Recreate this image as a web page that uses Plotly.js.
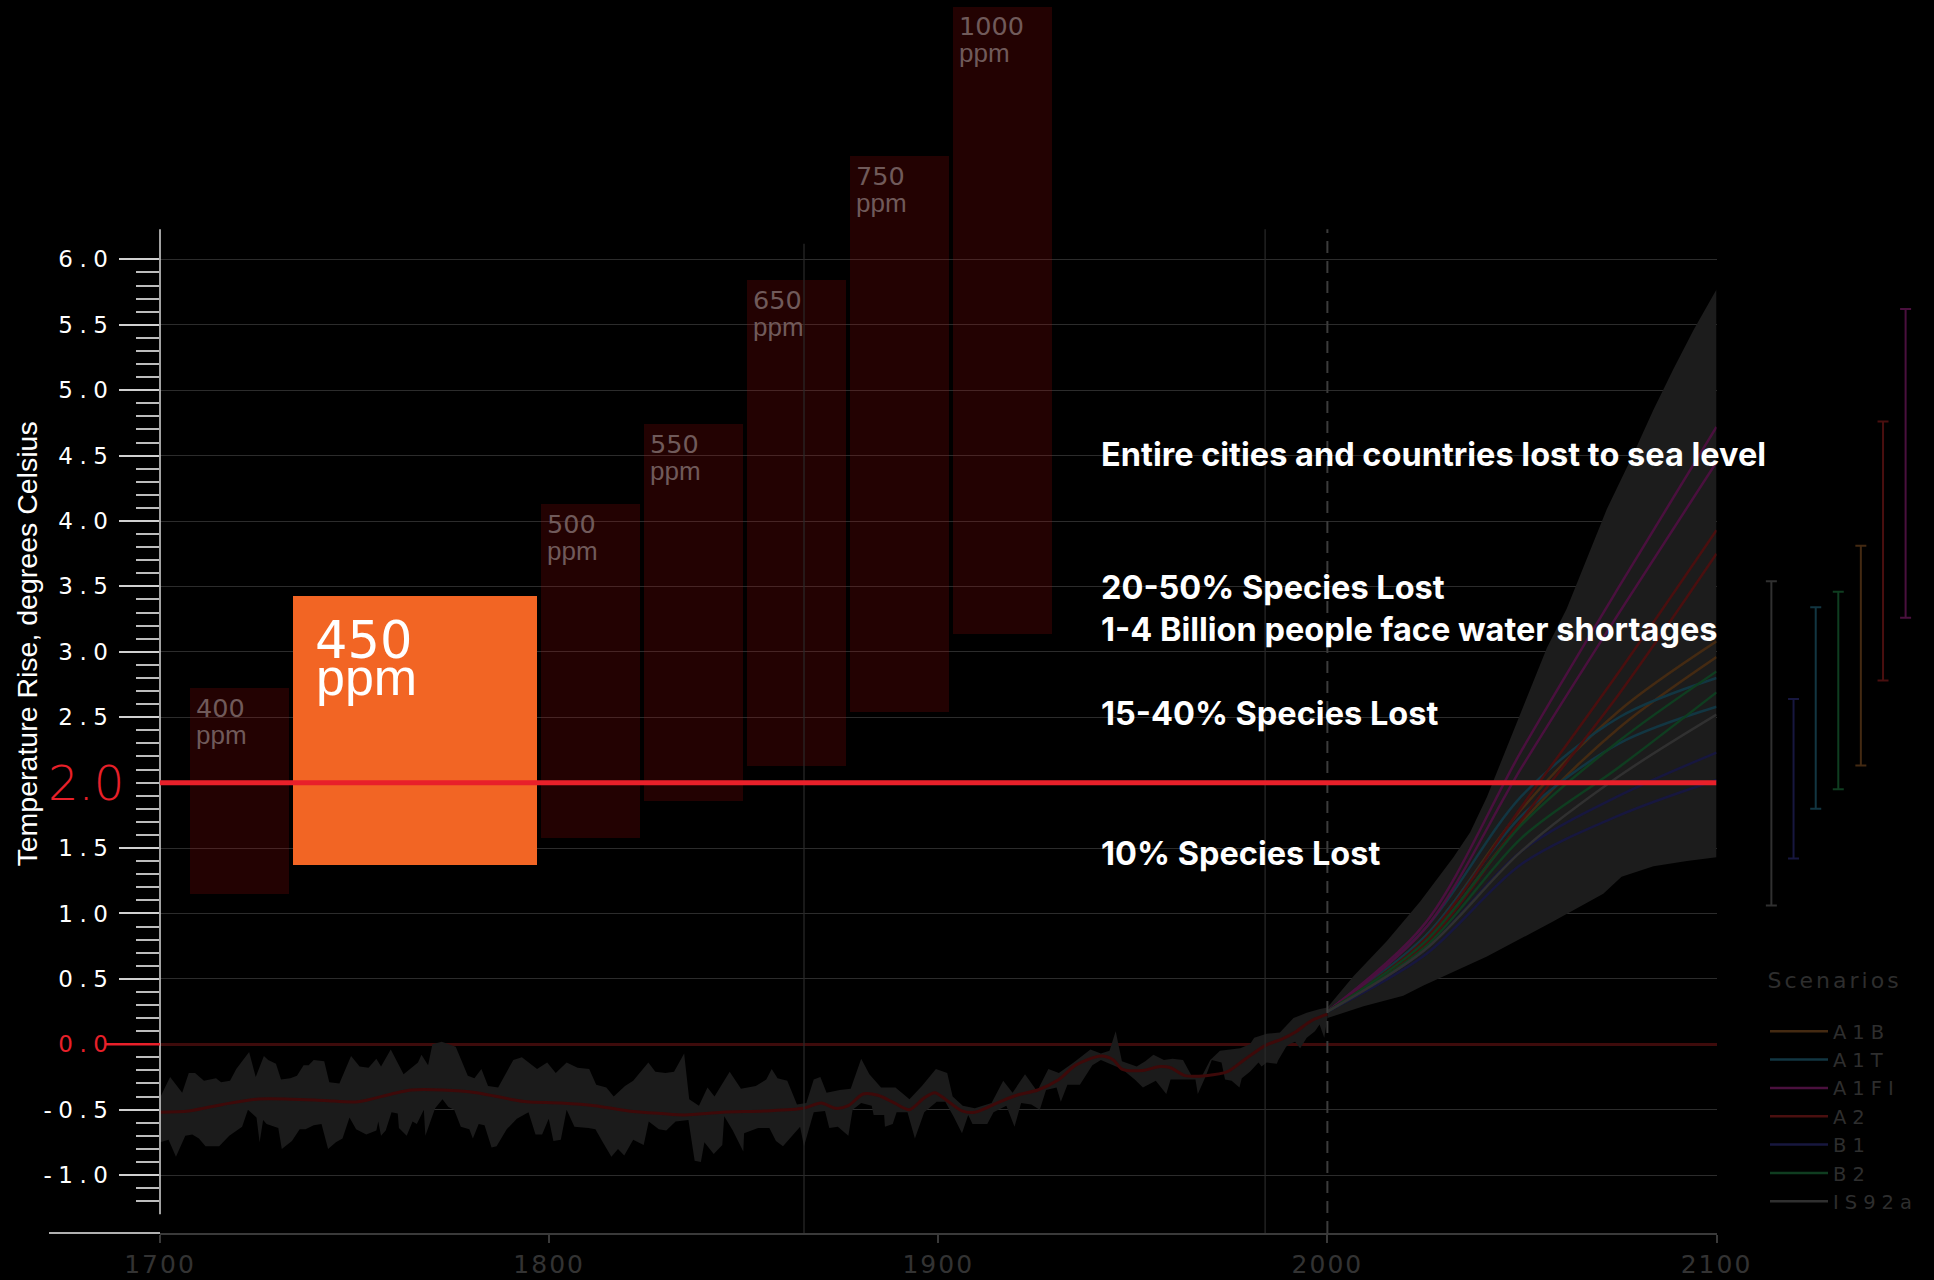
<!DOCTYPE html>
<html>
<head>
<meta charset="utf-8">
<script src="https://cdn.plot.ly/plotly-3.0.1.min.js"></script>
<style>
html,body{margin:0;padding:0;background:#000;}
#chart{width:1934px;height:1280px;}
.ytick text{letter-spacing:6.5px;}
.xtick text{letter-spacing:2px;}
.legendtext{letter-spacing:6px;}
.annotation[data-index="0"] .annotation-text{letter-spacing:3px;}
</style>
</head>
<body>
<div id="chart"></div>
<script>
// ---------- CO2 stabilisation boxes ----------
const boxLabels = ['400','450','500','550','650','750','1000'];
const boxStart  = [1707.7,1734.2,1797.9,1824.3,1850.9,1877.3,1903.8];
const boxEnd    = [1733.2,1796.9,1823.3,1849.8,1876.3,1902.8,1929.2];
const boxLow    = [1.15,1.37,1.58,1.86,2.13,2.54,3.14];
const boxHigh   = [2.72,3.43,4.13,4.74,5.84,6.79,7.93];
const highlightBox = '450';

// ---------- historical record ----------
const histUpperYears = [1700.0,1702.6,1705.7,1707.4,1709.0,1711.3,1714.4,1715.7,1718.0,1719.6,1722.9,1724.6,1726.7,1727.8,1729.8,1731.1,1733.5,1735.2,1736.9,1738.2,1739.5,1742.2,1743.5,1746.1,1749.1,1751.3,1753.6,1755.6,1756.8,1759.3,1762.6,1766.3,1767.2,1768.9,1770.0,1772.4,1776.0,1777.8,1779.1,1780.8,1782.6,1784.3,1786.9,1790.8,1793.0,1796.9,1799.5,1801.7,1804.5,1807.3,1810.3,1812.1,1814.7,1816.6,1819.5,1821.6,1825.5,1827.3,1829.9,1832.1,1834.7,1836.0,1838.5,1840.7,1842.5,1846.4,1849.3,1853.1,1855.8,1857.2,1858.7,1861.2,1863.7,1866.1,1868.0,1869.7,1871.3,1874.7,1877.5,1880.2,1882.3,1885.3,1889.0,1892.6,1895.8,1899.4,1902.3,1903.7,1906.3,1909.4,1913.7,1916.7,1919.1,1922.3,1925.4,1928.3,1931.0,1934.8,1939.1,1941.8,1944.0,1945.6,1947.2,1951.0,1953.2,1955.3,1958.0,1960.2,1962.9,1965.1,1967.8,1969.9,1972.4,1977.6,1980.1,1981.2,1984.4,1987.8,1989.6,1991.3,1994.7,1998.1,2000.0];
const histUpper = [-0.41,-0.25,-0.37,-0.22,-0.22,-0.28,-0.26,-0.29,-0.28,-0.19,-0.06,-0.25,-0.09,-0.12,-0.15,-0.27,-0.26,-0.24,-0.16,-0.16,-0.12,-0.13,-0.29,-0.30,-0.09,-0.17,-0.18,-0.11,-0.17,-0.04,-0.23,-0.14,-0.08,-0.16,0.00,0.02,-0.02,-0.14,-0.24,-0.26,-0.19,-0.32,-0.33,-0.12,-0.10,-0.19,-0.14,-0.22,-0.14,-0.18,-0.19,-0.31,-0.33,-0.40,-0.32,-0.28,-0.14,-0.21,-0.22,-0.21,-0.07,-0.42,-0.47,-0.33,-0.40,-0.21,-0.34,-0.32,-0.27,-0.19,-0.26,-0.28,-0.46,-0.45,-0.27,-0.25,-0.37,-0.35,-0.34,-0.11,-0.23,-0.33,-0.33,-0.42,-0.32,-0.19,-0.22,-0.40,-0.47,-0.49,-0.45,-0.28,-0.37,-0.23,-0.36,-0.19,-0.22,-0.14,-0.04,-0.07,-0.05,0.10,-0.13,-0.17,-0.13,-0.08,-0.12,-0.11,-0.12,-0.24,-0.24,-0.12,-0.05,-0.03,0.00,0.05,0.08,0.09,0.15,0.20,0.24,0.27,0.28];
const histLowerYears = [1700.0,1702.2,1704.1,1706.5,1708.3,1710.0,1711.7,1715.2,1717.8,1719.6,1721.1,1722.6,1724.8,1725.6,1726.5,1727.4,1730.4,1731.3,1733.9,1735.9,1737.4,1739.5,1741.5,1743.2,1745.2,1746.9,1748.7,1750.4,1753.0,1755.6,1756.1,1756.8,1758.0,1759.5,1761.1,1761.4,1763.4,1764.9,1766.0,1767.8,1768.2,1770.7,1772.6,1774.1,1775.6,1777.3,1779.5,1780.4,1781.9,1783.4,1785.2,1786.5,1789.1,1791.7,1794.7,1796.5,1798.2,1799.9,1801.1,1803.0,1804.5,1806.5,1810.1,1811.9,1813.8,1816.0,1817.7,1819.3,1821.6,1824.3,1825.6,1828.2,1830.1,1832.5,1835.8,1837.4,1839.0,1839.9,1842.3,1844.5,1845.0,1847.2,1849.9,1850.1,1853.7,1856.6,1858.3,1860.1,1864.5,1865.5,1868.0,1870.9,1872.0,1874.2,1876.9,1878.0,1880.2,1882.9,1883.4,1886.1,1886.3,1888.3,1889.3,1892.1,1894.0,1896.4,1899.6,1901.8,1903.9,1906.1,1907.7,1908.8,1912.6,1914.2,1917.5,1919.6,1921.3,1923.9,1926.1,1927.7,1930.4,1931.5,1933.2,1936.4,1939.6,1941.8,1947.2,1950.5,1952.6,1955.9,1958.6,1959.7,1963.4,1966.1,1966.7,1968.8,1970.3,1972.8,1973.7,1975.4,1977.4,1978.0,1980.1,1981.0,1982.3,1983.1,1984.4,1987.0,1987.4,1989.4,1990.2,1991.7,1993.0,1994.7,1996.8,1998.0,1999.2,2000.0];
const histLower = [-0.75,-0.73,-0.86,-0.70,-0.69,-0.72,-0.78,-0.78,-0.70,-0.66,-0.63,-0.50,-0.56,-0.75,-0.58,-0.61,-0.64,-0.80,-0.74,-0.65,-0.65,-0.62,-0.61,-0.80,-0.75,-0.72,-0.56,-0.65,-0.69,-0.66,-0.59,-0.70,-0.66,-0.52,-0.53,-0.64,-0.70,-0.59,-0.61,-0.50,-0.70,-0.49,-0.42,-0.48,-0.50,-0.63,-0.65,-0.72,-0.61,-0.62,-0.79,-0.78,-0.65,-0.57,-0.52,-0.69,-0.69,-0.57,-0.74,-0.73,-0.50,-0.63,-0.64,-0.65,-0.75,-0.86,-0.80,-0.85,-0.73,-0.77,-0.59,-0.65,-0.66,-0.59,-0.58,-0.89,-0.90,-0.75,-0.84,-0.77,-0.55,-0.66,-0.82,-0.68,-0.64,-0.64,-0.74,-0.78,-0.63,-0.78,-0.52,-0.51,-0.64,-0.63,-0.70,-0.50,-0.45,-0.47,-0.54,-0.54,-0.63,-0.61,-0.52,-0.52,-0.72,-0.52,-0.44,-0.44,-0.55,-0.68,-0.54,-0.61,-0.61,-0.52,-0.47,-0.63,-0.45,-0.46,-0.50,-0.35,-0.33,-0.44,-0.31,-0.31,-0.16,-0.12,-0.19,-0.27,-0.33,-0.28,-0.38,-0.27,-0.27,-0.27,-0.38,-0.24,-0.12,-0.14,-0.27,-0.28,-0.33,-0.26,-0.21,-0.18,-0.14,-0.17,-0.14,-0.15,-0.12,-0.02,0.00,0.02,-0.03,0.05,0.10,0.15,0.05,0.20];
const meanYears = [1700.0,1707.4,1716.1,1724.8,1733.5,1742.2,1750.8,1759.5,1764.7,1772.6,1781.3,1790.0,1794.3,1803.0,1811.7,1820.4,1829.0,1834.9,1844.5,1855.3,1865.3,1869.9,1873.7,1876.9,1880.7,1884.5,1888.8,1892.6,1896.4,1899.1,1901.8,1906.1,1909.4,1915.8,1920.2,1925.6,1931.0,1935.3,1941.8,1945.0,1947.2,1952.6,1957.0,1959.7,1963.4,1968.8,1974.3,1978.6,1984.0,1988.3,1991.6,1995.9,2000.0];
const meanTemp  = [-0.52,-0.51,-0.46,-0.42,-0.42,-0.43,-0.44,-0.38,-0.35,-0.35,-0.37,-0.42,-0.44,-0.45,-0.47,-0.51,-0.53,-0.54,-0.52,-0.51,-0.49,-0.45,-0.49,-0.47,-0.38,-0.39,-0.45,-0.50,-0.41,-0.37,-0.42,-0.51,-0.52,-0.44,-0.39,-0.35,-0.27,-0.16,-0.09,-0.12,-0.19,-0.20,-0.17,-0.18,-0.24,-0.24,-0.21,-0.12,-0.01,0.04,0.09,0.18,0.23];

// ---------- projections ----------
const projUpperYears = [2000.0,2006.7,2015.3,2023.8,2032.4,2036.7,2041.0,2046.1,2051.2,2056.4,2061.5,2066.7,2071.8,2078.6,2083.8,2088.9,2094.1,2100.0];
const projUpper      = [0.28,0.52,0.79,1.09,1.43,1.62,1.89,2.27,2.65,3.03,3.33,3.71,4.09,4.51,4.85,5.16,5.46,5.77];
const projLowerYears = [2000.0,2009.3,2019.5,2024.7,2041.0,2058.1,2070.9,2075.6,2083.8,2092.4,2100.0];
const projLower      = [0.20,0.29,0.37,0.45,0.67,0.94,1.15,1.28,1.36,1.40,1.43];

const scenarioYears = [2000,2025,2050,2075,2100];
const scenarioNames = ['A1B','A1T','A1FI','A2','B1','B2','IS92a'];
const scenarioRuns = {
  'A1B':  [[0.25,0.82,1.80,2.55,3.08],[0.25,0.78,1.70,2.42,2.96]],
  'A1T':  [[0.25,0.88,1.90,2.50,2.80],[0.25,0.82,1.75,2.30,2.58]],
  'A1FI': [[0.25,0.92,2.25,3.50,4.72],[0.25,0.88,2.12,3.30,4.45]],
  'A2':   [[0.25,0.80,1.82,2.85,3.93],[0.25,0.76,1.72,2.68,3.75]],
  'B1':   [[0.25,0.72,1.48,1.90,2.23],[0.25,0.68,1.38,1.75,2.02]],
  'B2':   [[0.25,0.78,1.68,2.32,2.85],[0.25,0.74,1.58,2.12,2.69]],
  'IS92a':[[0.25,0.72,1.48,2.05,2.52]]
};
const scenarioColors = {'A1B':'#442a12','A1T':'#123642','A1FI':'#4a103e','A2':'#4a0f0f','B1':'#17173f','B2':'#0f3d20','IS92a':'#303030'};

// 2100 ranges
const rangeNames = ['IS92a','B1','A1T','B2','A1B','A2','A1FI'];
const rangeX     = [2114.1,2119.8,2125.5,2131.3,2137.1,2142.8,2148.6];
const rangeLow   = [1.06,1.42,1.80,1.95,2.13,2.78,3.26];
const rangeHigh  = [3.54,2.64,3.34,3.46,3.81,4.76,5.62];

// ---------- impact text ----------
const impactText  = ['Entire cities and countries lost to sea level','20-50% Species Lost','1-4 Billion people face water shortages','15-40% Species Lost','10% Species Lost'];
const impactLevel = [4.51,3.49,3.17,2.53,1.46];
const impactYear  = 1941.4;

// ---------- axes ----------
const xTicks = [1700,1800,1900,2000,2100];
const yTicks = [-1,-0.5,0,0.5,1,1.5,2.5,3,3.5,4,4.5,5,5.5,6];
const targetLevel = 2.0;
const markerYears = [1865.5,1984];
const baseYear = 2000;

const RED = '#e8202a';
const Y0 = -1.443, Y1 = 7.983;

// minor ticks every 0.1
const minorVals = [];
for (let k = -12; k <= 59; k++) { if (k % 5 !== 0 || k === 20) minorVals.push(k/10); }

const traces = [];

// boxes as bars
traces.push({
  type:'bar', x: boxStart.map((s,i)=>(s+boxEnd[i])/2), width: boxStart.map((s,i)=>boxEnd[i]-s),
  base: boxLow, y: boxHigh.map((h,i)=>h-boxLow[i]),
  marker:{color: boxLabels.map(l=> l===highlightBox ? '#f26524' : 'rgba(175,8,8,0.2)'), line:{width:0}},
  hoverinfo:'skip', showlegend:false
});

// historical band
traces.push({
  type:'scatter', mode:'lines', x: histUpperYears.concat(histLowerYears.slice().reverse()),
  y: histUpper.concat(histLower.slice().reverse()), fill:'toself', fillcolor:'#1b1b1b',
  line:{width:0}, hoverinfo:'skip', showlegend:false
});
// projection band
traces.push({
  type:'scatter', mode:'lines', x: projUpperYears.concat(projLowerYears.slice().reverse()),
  y: projUpper.concat(projLower.slice().reverse()), fill:'toself', fillcolor:'#1c1c1c',
  line:{width:0}, hoverinfo:'skip', showlegend:false
});
// mean line
traces.push({
  type:'scatter', mode:'lines', x: meanYears, y: meanTemp,
  line:{color:'#3e0909', width:3, shape:'spline', smoothing:0.8}, hoverinfo:'skip', showlegend:false
});
// scenario runs
scenarioNames.forEach(n=>{
  scenarioRuns[n].forEach((run,j)=>{
    traces.push({
      type:'scatter', mode:'lines', name:n, x: scenarioYears, y: run,
      line:{color: scenarioColors[n], width:2.5, shape:'spline', smoothing:0.9},
      showlegend: j===0, hoverinfo:'skip'
    });
  });
});
// 2100 ranges
rangeNames.forEach((n,i)=>{
  const mid = (rangeLow[i]+rangeHigh[i])/2;
  traces.push({
    type:'scatter', mode:'markers', xaxis:'x2', yaxis:'y2', x:[rangeX[i]], y:[mid],
    marker:{size:1, color:'rgba(0,0,0,0)'},
    error_y:{type:'data', symmetric:false, array:[rangeHigh[i]-mid], arrayminus:[mid-rangeLow[i]],
             color: scenarioColors[n], thickness:2, width:5.5},
    showlegend:false, hoverinfo:'skip'
  });
});

const annotations = [];
annotations.push({xref:'paper', yref:'paper', x:(1779-160)/1774, y:(1233-980)/1233, xanchor:'left', yanchor:'middle',
  text:'Scenarios', showarrow:false, font:{family:'DejaVu Sans', size:22, color:'#2e2e2e'}});
annotations.push({xref:'paper', yref:'y', x:(27-160)/1774, y:3.056, xanchor:'center', yanchor:'middle',
  text:'Temperature Rise, degrees Celsius', textangle:-90, showarrow:false,
  font:{family:'Liberation Sans, Arial, sans-serif', size:28.5, color:'#ffffff'}});
annotations.push({xref:'paper', yref:'y', x:(126-160)/1774, y:targetLevel, xanchor:'right', yanchor:'middle',
  text:targetLevel.toFixed(1), showarrow:false, font:{family:'DejaVu Sans', weight:200, size:48, color:RED}});
boxLabels.forEach((lab,i)=>{
  const big = lab===highlightBox;
  annotations.push({xref:'x', yref:'y', x:boxStart[i], y:boxHigh[i], xanchor:'left', yanchor:'top',
    xshift: big?20:4, yshift: big?-13:-2.5, text:lab, showarrow:false,
    font:{family:'DejaVu Sans', size: big?51:25.5, color: big?'#ffffff':'#705a5a'}});
  annotations.push({xref:'x', yref:'y', x:boxStart[i], y:boxHigh[i], xanchor:'left', yanchor:'top',
    xshift: big?21:4, yshift: big?-50:-29.5, text:'ppm', showarrow:false,
    font:{family:'Liberation Sans, Arial, sans-serif', size: big?52:26, color: big?'#ffffff':'#705a5a'}});
});
impactText.forEach((t,i)=>{
  annotations.push({xref:'x', yref:'y', x:impactYear, y:impactLevel[i], xanchor:'left', yanchor:'middle',
    text:t, showarrow:false, font:{family:'Inter, Liberation Sans, sans-serif', weight:700, size:32.5, color:'#ffffff'}});
});

const shapes = [
  {type:'line', xref:'paper', yref:'y', x0:0, x1:0, y0:-1.3, y1:6.23, line:{color:'#d8d8d8', width:1.5}},
  {type:'line', xref:'paper', yref:'paper', x0:(49-160)/1774, x1:0, y0:0, y1:0, line:{color:'#b0b0b0', width:2}},
  {type:'line', xref:'paper', yref:'y', x0:(106-160)/1774, x1:0, y0:0, y1:0, line:{color:RED, width:2.5}},
  {type:'line', xref:'x', yref:'y', x0:markerYears[0], x1:markerYears[0], y0:Y0, y1:6.12, line:{color:'#2a2a2a', width:1.2}},
  {type:'line', xref:'x', yref:'y', x0:markerYears[1], x1:markerYears[1], y0:Y0, y1:6.23, line:{color:'#2a2a2a', width:1.2}},
  {type:'line', xref:'x', yref:'y', x0:baseYear, x1:baseYear, y0:Y0, y1:6.23, line:{color:'#3c3c3c', width:2, dash:'12px,8px'}},
  {type:'line', xref:'x', yref:'y', x0:xTicks[0], x1:xTicks[xTicks.length-1], y0:targetLevel, y1:targetLevel, line:{color:RED, width:5}}
];

const layout = {
  width:1934, height:1280, paper_bgcolor:'#000000', plot_bgcolor:'rgba(0,0,0,0)',
  margin:{l:160, r:0, t:0, b:47, pad:0},
  showlegend:true, bargap:0,
  xaxis:{domain:[0,(1716.5-160)/1774], range:[1700,2100], tickmode:'array', tickvals:xTicks, ticktext:xTicks.map(String),
    ticks:'outside', ticklen:8, tickwidth:2, tickcolor:'#3a3a3a', showline:true, linecolor:'#3a3a3a', linewidth:2,
    showgrid:false, zeroline:false, ticklabelstandoff:0,
    tickfont:{family:'DejaVu Sans', size:25, color:'#333333'}, fixedrange:true},
  yaxis:{domain:[0,1], range:[Y0,Y1], tickmode:'array', tickvals:yTicks,
    ticktext:yTicks.map(v=> v===0 ? '<span style="color:'+RED+'">0.0</span>' : v.toFixed(1)),
    ticks:'outside', ticklen:40, tickwidth:1.5, tickcolor:'#d0d0d0',
    showgrid:true, gridcolor:'#2c2c2c', gridwidth:1, zeroline:true, zerolinecolor:'#3e0b0b', zerolinewidth:2.5,
    showline:false, ticklabelstandoff:0,
    tickfont:{family:'DejaVu Sans', size:23, color:'#ffffff'},
    minor:{tickmode:'array', tickvals:minorVals, ticks:'outside', ticklen:23, tickwidth:1.5, tickcolor:'#bdbdbd', showgrid:false},
    fixedrange:true},
  xaxis2:{domain:[(1716.5-160)/1774,1], range:[2100,2155.9], visible:false, anchor:'y2', fixedrange:true},
  yaxis2:{domain:[0,1], range:[Y0,Y1], visible:false, anchor:'x2', fixedrange:true},
  legend:{x:(1765-160)/1774, xanchor:'left', y:(1233-1012)/1233, yanchor:'top', bgcolor:'rgba(0,0,0,0)', borderwidth:0,
    font:{family:'DejaVu Sans', size:19.5, color:'#2e2e2e'}, tracegroupgap:0, itemwidth:58, traceorder:'normal'},
  shapes: shapes,
  annotations: annotations
};

Plotly.newPlot('chart', traces, layout, {displayModeBar:false, responsive:false});
</script>
</body>
</html>
